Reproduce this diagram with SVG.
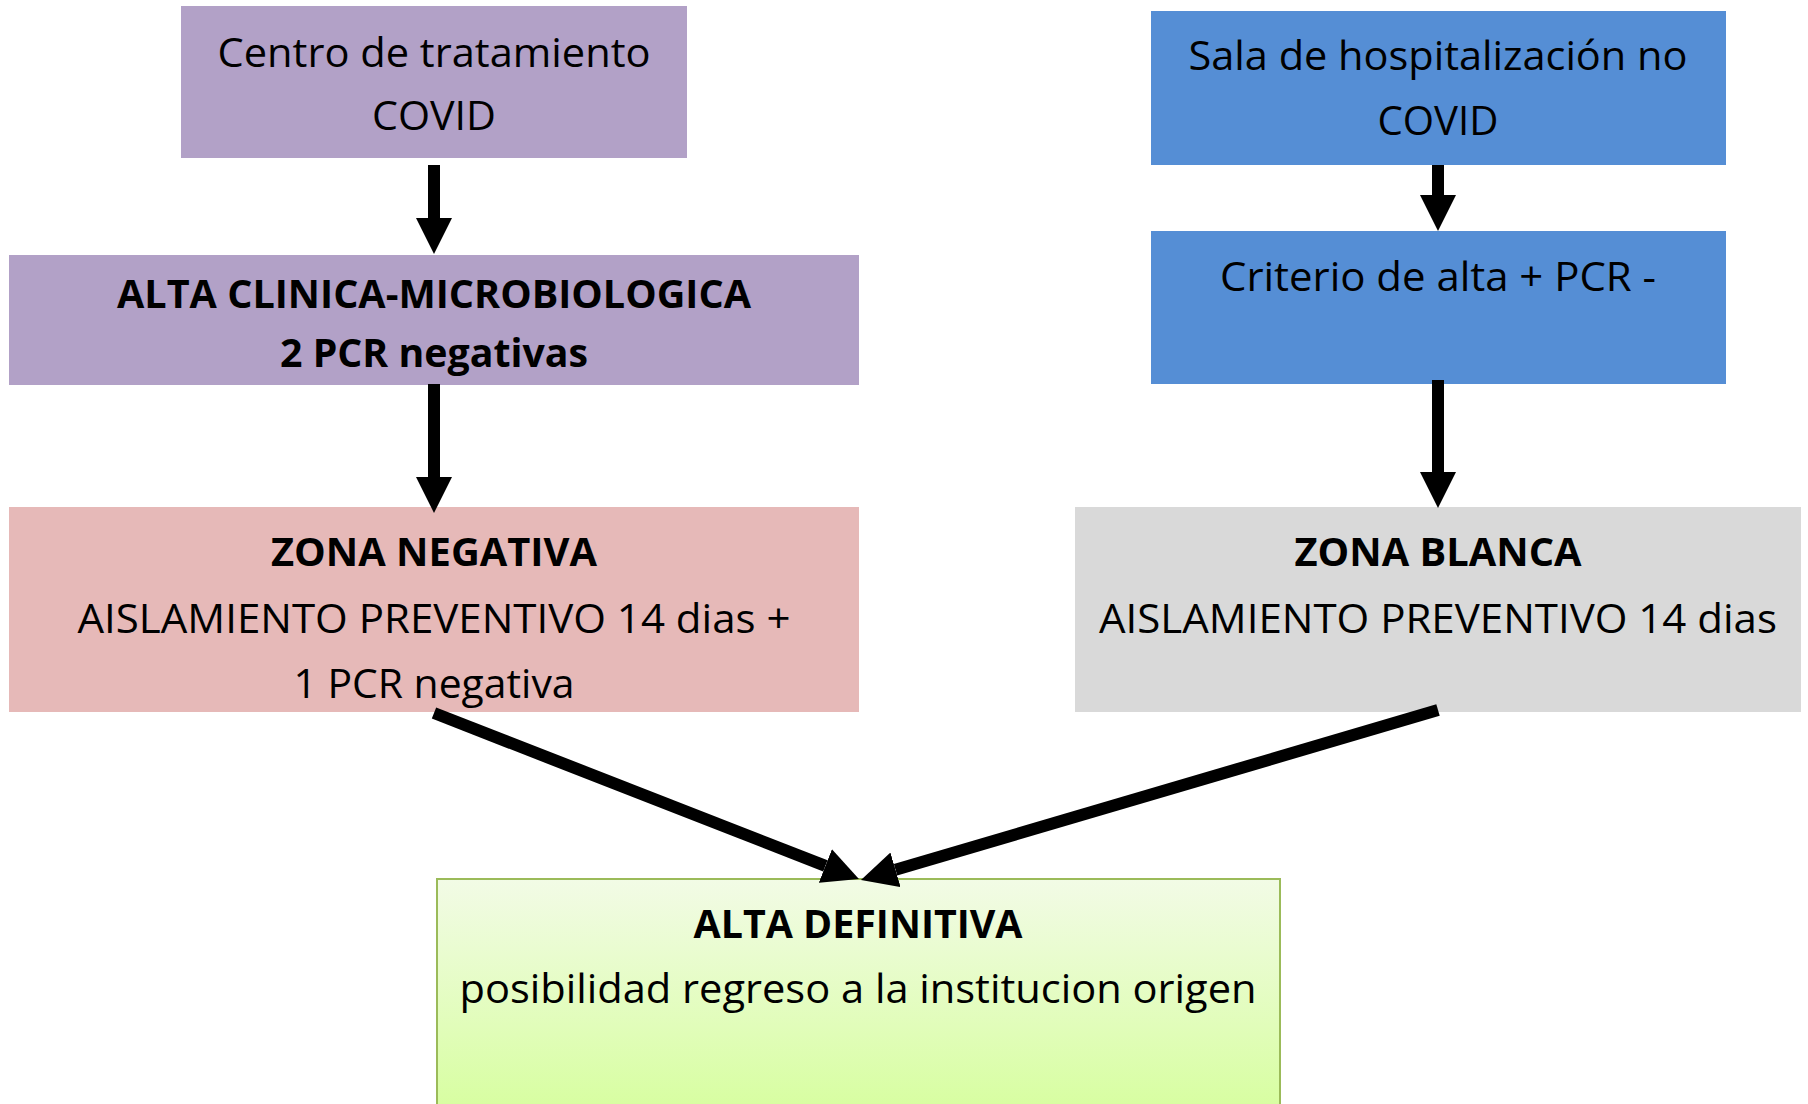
<svg xmlns="http://www.w3.org/2000/svg" width="1808" height="1104" viewBox="0 0 1808 1104">
<style>
  text { font-family: "Open Sans", "Liberation Sans", sans-serif; font-size: 40px; fill: #000; text-anchor: middle; }
  .b { font-weight: 700; }
  .conn { stroke: #000; stroke-width: 12; fill: none; marker-end: url(#ah); }
</style>
<defs>
  <marker id="ah" markerUnits="userSpaceOnUse" markerWidth="36" markerHeight="36" refX="0" refY="18" orient="auto" viewBox="0 0 36 36">
    <path d="M0,0 L36,18 L0,36 z" fill="#000"/>
  </marker>
  <linearGradient id="gg" x1="0" y1="879" x2="0" y2="1104" gradientUnits="userSpaceOnUse">
    <stop offset="0" stop-color="#f2fbe6"/>
    <stop offset="1" stop-color="#d8fea2"/>
  </linearGradient>
</defs>
<g id="n1">
  <rect x="181" y="6" width="506" height="152" fill="#b2a1c7"/>
  <text x="434" y="67" textLength="433" lengthAdjust="spacingAndGlyphs">Centro de tratamiento</text>
  <text x="434" y="130" textLength="124" lengthAdjust="spacingAndGlyphs">COVID</text>
</g>
<g id="n2">
  <rect x="9" y="255" width="850" height="130" fill="#b2a1c7"/>
  <text class="b" x="434" y="308" textLength="634" lengthAdjust="spacingAndGlyphs">ALTA CLINICA-MICROBIOLOGICA</text>
  <text class="b" x="434" y="367" textLength="308" lengthAdjust="spacingAndGlyphs">2 PCR negativas</text>
</g>
<g id="n3">
  <rect x="9" y="507" width="850" height="205" fill="#e6b9b8"/>
  <text class="b" x="434" y="566" textLength="326" lengthAdjust="spacingAndGlyphs">ZONA NEGATIVA</text>
  <text x="434" y="633" textLength="713" lengthAdjust="spacingAndGlyphs">AISLAMIENTO PREVENTIVO 14 dias +</text>
  <text x="434" y="698" textLength="281" lengthAdjust="spacingAndGlyphs">1 PCR negativa</text>
</g>
<g id="n4">
  <rect x="1151" y="11" width="575" height="154" fill="#558ed5"/>
  <text x="1438" y="70" textLength="499" lengthAdjust="spacingAndGlyphs">Sala de hospitalización no</text>
  <text x="1438" y="135" textLength="121" lengthAdjust="spacingAndGlyphs">COVID</text>
</g>
<g id="n5">
  <rect x="1151" y="231" width="575" height="153" fill="#558ed5"/>
  <text x="1438" y="291" textLength="436" lengthAdjust="spacingAndGlyphs">Criterio de alta + PCR -</text>
</g>
<g id="n6">
  <rect x="1075" y="507" width="726" height="205" fill="#d9d9d9"/>
  <text class="b" x="1438" y="566" textLength="287" lengthAdjust="spacingAndGlyphs">ZONA BLANCA</text>
  <text x="1438" y="633" textLength="678" lengthAdjust="spacingAndGlyphs">AISLAMIENTO PREVENTIVO 14 dias</text>
</g>
<g id="n7">
  <rect x="437" y="879" width="843" height="240" fill="url(#gg)" stroke="#9bbb59" stroke-width="2"/>
  <text class="b" x="858" y="938" textLength="329" lengthAdjust="spacingAndGlyphs">ALTA DEFINITIVA</text>
  <text x="858" y="1003" textLength="797" lengthAdjust="spacingAndGlyphs">posibilidad regreso a la institucion origen</text>
</g>
<g id="connectors">
  <line class="conn" x1="434" y1="165" x2="434" y2="218"/>
  <line class="conn" x1="434" y1="384" x2="434" y2="477"/>
  <line class="conn" x1="1438" y1="165" x2="1438" y2="195"/>
  <line class="conn" x1="1438" y1="380" x2="1438" y2="472"/>
  <line class="conn" x1="434" y1="713" x2="825.4" y2="865.9"/>
  <line class="conn" x1="1438" y1="710" x2="895.5" y2="869.8"/>
</g>
</svg>
